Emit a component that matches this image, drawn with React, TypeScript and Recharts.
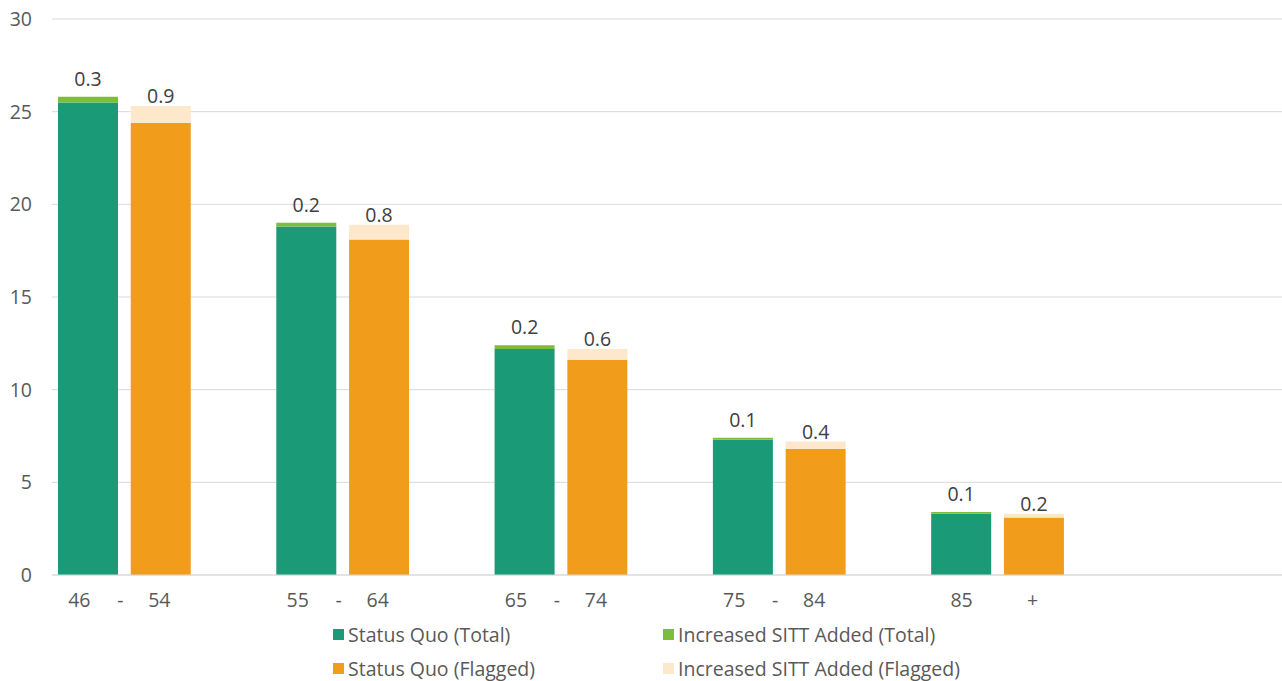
import {
  BarChart,
  Bar,
  XAxis,
  YAxis,
  CartesianGrid,
  Legend,
  LabelList,
} from "recharts";

const ageBands = ["46 - 54", "55 - 64", "65 - 74", "75 - 84", "85 +"];
const statusQuoTotal = [25.5, 18.8, 12.2, 7.3, 3.3];
const addedTotal = [0.3, 0.2, 0.2, 0.1, 0.1];
const statusQuoFlagged = [24.4, 18.1, 11.6, 6.8, 3.1];
const addedFlagged = [0.9, 0.8, 0.6, 0.4, 0.2];
const yTicks = [0, 5, 10, 15, 20, 25, 30];

const seriesNames = {
  sqTotal: "Status Quo (Total)",
  addTotal: "Increased SITT Added (Total)",
  sqFlagged: "Status Quo (Flagged)",
  addFlagged: "Increased SITT Added (Flagged)",
};

const colors = {
  sqTotal: "#1b9a78",
  addTotal: "#7cbd3c",
  sqFlagged: "#f29c1b",
  addFlagged: "#fde8cb",
};

// one slot per bar, with an empty slot after each age band (Excel style spacing)
type Row = {
  slot: string;
  label?: string;
  sqTotal?: number;
  addTotal?: number;
  sqFlagged?: number;
  addFlagged?: number;
};

const rows: Row[] = [];
ageBands.forEach((band, i) => {
  rows.push({ slot: band + "-t", label: band, sqTotal: statusQuoTotal[i], addTotal: addedTotal[i] });
  rows.push({ slot: band + "-f", sqFlagged: statusQuoFlagged[i], addFlagged: addedFlagged[i] });
  rows.push({ slot: band + "-gap" });
});
rows.push({ slot: "end-1" });
rows.push({ slot: "end-2" });

const FONT = "'Open Sans', 'Segoe UI', sans-serif";
const TEXT_SIZE = 19.5;

function AgeTick(props: any) {
  const { x, y, payload } = props;
  const row = rows.find((r) => r.slot === payload.value);
  if (!row || !row.label) return <g />;
  const parts = row.label.split(" ");
  const offsets = parts.length === 3 ? [-9, 32, 71] : [0, 71];
  return (
    <g>
      {parts.map((p, i) => (
        <text
          key={i}
          x={x + offsets[i]}
          y={y}
          dy="0.71em"
          textAnchor="middle"
          fill="#595959"
          fontSize={TEXT_SIZE}
          fontFamily={FONT}
        >
          {p}
        </text>
      ))}
    </g>
  );
}

function topLabel(offset: number) {
  return (props: any) => {
    const { x, y, width, value } = props;
    if (value === undefined || value === null) return null;
    return (
      <text
        x={x + width / 2}
        y={y - offset}
        textAnchor="middle"
        fill="#404040"
        fontSize={TEXT_SIZE}
        fontFamily={FONT}
      >
        {Number(value).toFixed(1)}
      </text>
    );
  };
}

function LegendBox() {
  const items: [keyof typeof colors, number, number][] = [
    ["sqTotal", 333, 19],
    ["addTotal", 663, 19],
    ["sqFlagged", 333, 53],
    ["addFlagged", 663, 53],
  ];
  return (
    <div style={{ position: "relative", width: 1289, height: 66 }}>
      {items.map(([key, left, top]) => (
        <div
          key={key}
          style={{
            position: "absolute",
            left,
            top: top - 13,
            height: 26,
            display: "flex",
            alignItems: "center",
            fontFamily: FONT,
            fontSize: TEXT_SIZE,
            color: "#595959",
            whiteSpace: "nowrap",
          }}
        >
          <span
            style={{
              display: "inline-block",
              width: 11,
              height: 11,
              background: colors[key],
              marginRight: 4,
            }}
          />
          {seriesNames[key]}
        </div>
      ))}
    </div>
  );
}

export default function App() {
  return (
    <div
      style={{
        position: "absolute",
        left: 0,
        top: 0,
        width: 1282,
        height: 681,
        overflow: "hidden",
        background: "#fff",
      }}
    >
      <BarChart
        width={1289}
        height={681}
        data={rows}
        margin={{ top: 19, right: 0, bottom: 0, left: 0 }}
        barSize={60}
      >
        <CartesianGrid vertical={false} stroke="#d9d9d9" />
        <XAxis
          dataKey="slot"
          interval={0}
          height={40}
          tick={AgeTick}
          tickLine={false}
          tickMargin={12}
          axisLine={{ stroke: "#d9d9d9" }}
        />
        <YAxis
          width={52}
          domain={[0, 30]}
          ticks={yTicks}
          axisLine={false}
          tickLine={false}
          tickMargin={14}
          tick={{ fill: "#595959", fontSize: TEXT_SIZE, fontFamily: FONT }}
        />
        <Legend verticalAlign="bottom" height={66} content={<LegendBox />} wrapperStyle={{ left: 0, bottom: 0 }} />
        <Bar dataKey="sqTotal" stackId="s" fill={colors.sqTotal} isAnimationActive={false} />
        <Bar dataKey="addTotal" stackId="s" fill={colors.addTotal} isAnimationActive={false}>
          <LabelList dataKey="addTotal" content={topLabel(11)} />
        </Bar>
        <Bar dataKey="sqFlagged" stackId="s" fill={colors.sqFlagged} isAnimationActive={false} />
        <Bar dataKey="addFlagged" stackId="s" fill={colors.addFlagged} isAnimationActive={false}>
          <LabelList dataKey="addFlagged" content={topLabel(3)} />
        </Bar>
      </BarChart>
    </div>
  );
}
